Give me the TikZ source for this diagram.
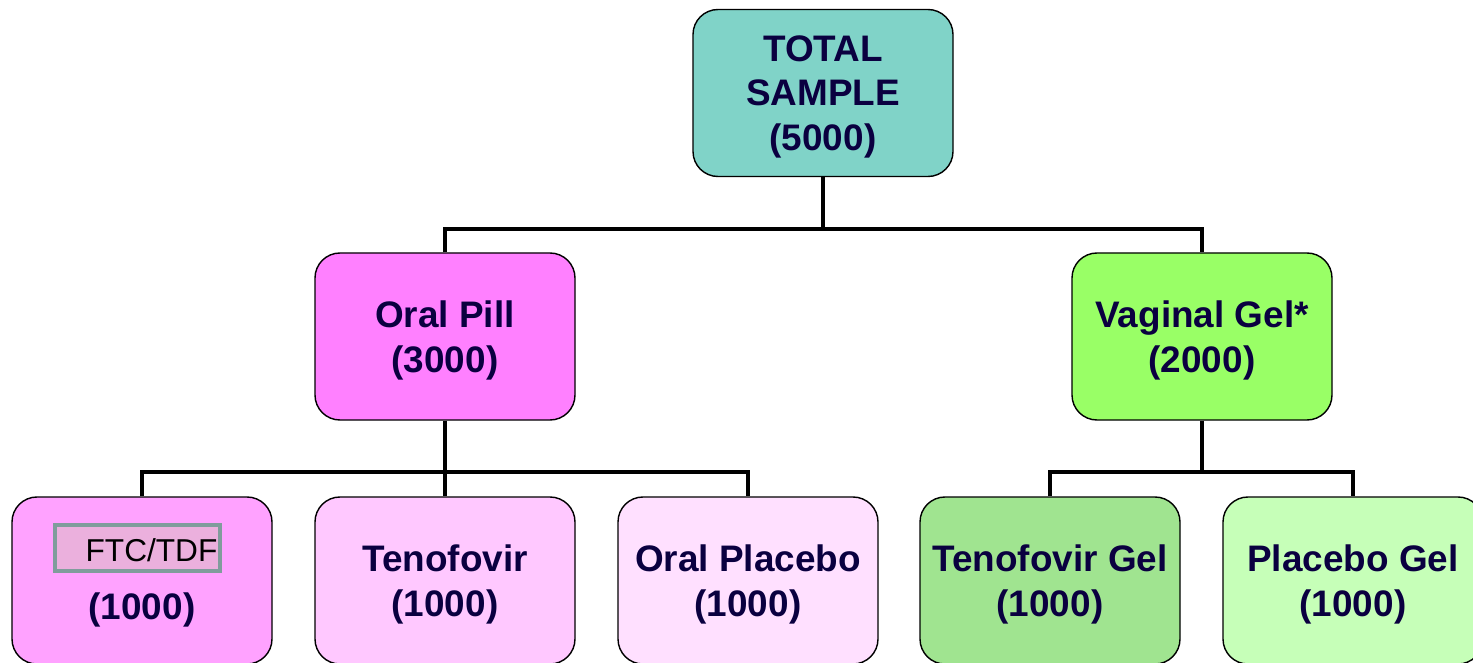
\documentclass[tikz,border=0pt]{standalone}
\usepackage{fontspec}
\setmainfont{Liberation Sans}
\usepackage{xcolor}
\usetikzlibrary{positioning}

\definecolor{navytext}{RGB}{10,0,64}
\definecolor{totalfill}{RGB}{128,211,200}
\definecolor{pillfill}{RGB}{255,128,255}
\definecolor{ftcfill}{RGB}{255,162,255}
\definecolor{tenofill}{RGB}{255,200,255}
\definecolor{oplacfill}{RGB}{255,224,255}
\definecolor{gelfill}{RGB}{153,255,102}
\definecolor{tgelfill}{RGB}{160,228,144}
\definecolor{pgelfill}{RGB}{198,255,184}
\definecolor{innerfill}{RGB}{235,176,221}
\definecolor{innerline}{RGB}{128,156,156}

\tikzset{
  box/.style={draw=black, line width=0.8pt, rounded corners=0.5cm,
    minimum width=5.2cm, minimum height=3.34cm, inner sep=0pt,
    align=center, text=navytext, text depth=-1.5pt,
    font=\fontsize{21}{25.5}\selectfont\bfseries},
  branch/.style={line width=2.8pt, line join=miter}
}

\begin{document}
\begin{tikzpicture}
\useasboundingbox (0,0) rectangle (29.46,13.24);

% top level
\node[box, fill=totalfill] at (16.46,11.38) (total) {TOTAL\\SAMPLE\\(5000)};

% second level
\node[box, fill=pillfill] at (8.9,6.51) (pill) {Oral Pill\\(3000)};
\node[box, fill=gelfill] at (24.04,6.51) (gel) {Vaginal Gel*\\(2000)};

% third level
\node[box, fill=ftcfill] at (2.84,1.63) (ftc) {};
\node[draw=innerline, fill=innerfill, line width=2.2pt, minimum width=3.3cm,
  minimum height=0.92cm, inner sep=0pt] at (2.75,2.28) (ftcframe) {};
\node[font=\fontsize{18}{22}\selectfont, text=black] at (3.03,2.24) (ftclabel) {FTC/TDF};
\node[font=\fontsize{21}{25.5}\selectfont\bfseries, text=navytext] at (2.84,1.04) (ftcnum) {(1000)};
\node[box, fill=tenofill] at (8.9,1.63) (teno) {Tenofovir\\(1000)};
\node[box, fill=oplacfill] at (14.96,1.63) (oplac) {Oral Placebo\\(1000)};
\node[box, fill=tgelfill] at (21.0,1.63) (tgel) {Tenofovir Gel\\(1000)};
\node[box, fill=pgelfill] at (27.06,1.63) (pgel) {Placebo Gel\\(1000)};

% connectors
\coordinate (jtop) at (16.46,8.66);
\coordinate (jpill) at (8.9,3.8);
\coordinate (jgel) at (24.04,3.8);

\draw[branch] (total.south) -- (jtop);
\draw[branch] (pill.north) |- (jtop) -| (gel.north);

\draw[branch] (pill.south) -- (jpill);
\draw[branch] (ftc.north) |- (jpill) -| (oplac.north);
\draw[branch] (jpill) -- (teno.north);

\draw[branch] (gel.south) -- (jgel);
\draw[branch] (tgel.north) |- (jgel) -| (pgel.north);

\end{tikzpicture}
\end{document}
